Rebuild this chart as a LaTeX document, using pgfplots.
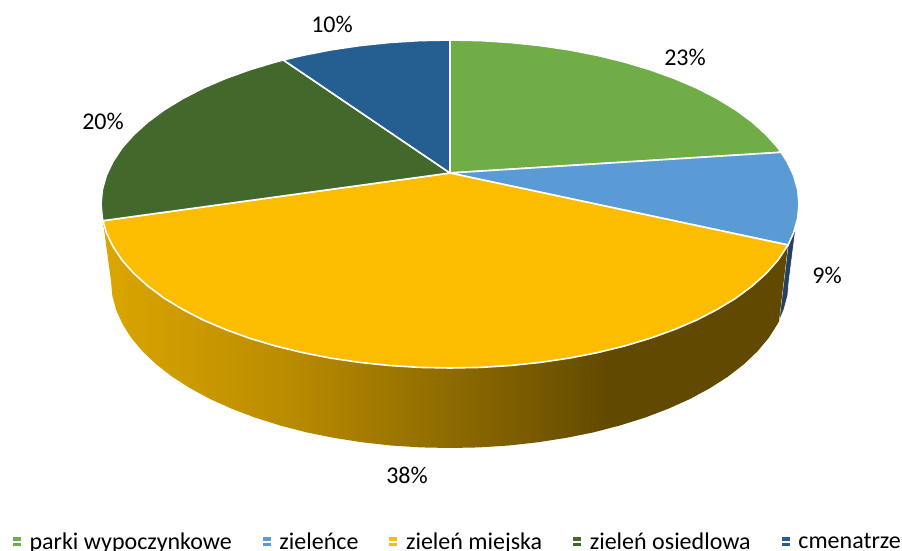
\documentclass[border=0pt]{standalone}
\usepackage{fontspec}
\setmainfont{Carlito}
\usepackage{pgfplots}
\pgfplotsset{compat=1.18}
\definecolor{pgreen}{HTML}{70AD47}
\definecolor{pblue}{HTML}{5B9BD5}
\definecolor{pyellow}{HTML}{FCBD00}
\definecolor{pdkgreen}{HTML}{43682B}
\definecolor{pnavy}{HTML}{255E91}
\definecolor{sidenavy}{HTML}{24425F}
\definecolor{sa}{HTML}{DCA600}
\definecolor{sb}{HTML}{B88A00}
\definecolor{sc}{HTML}{8F6C00}
\definecolor{sd}{HTML}{624900}
\pgfdeclarehorizontalshading{sideshade}{100bp}{color(0bp)=(sa); color(25bp)=(sa); color(39bp)=(sb); color(50bp)=(sc); color(62bp)=(sd); color(100bp)=(sd)}
\begin{document}
\begin{tikzpicture}
\useasboundingbox (0,0) rectangle (902pt,551pt);
\begin{axis}[
  scale only axis, width=902pt, height=551pt,
  xmin=0, xmax=902, ymin=0, ymax=551, y dir=reverse,
  hide axis, clip=false,
  legend style={at={(axis cs:12,553)}, anchor=south west, draw=none, fill=none,
    legend columns=-1, inner sep=0pt, outer sep=0pt, font=\fontsize{24}{26}\selectfont,
    /tikz/every even column/.append style={column sep=28pt}},
  legend cell align=left,
  legend image code/.code={\fill[#1,draw=none] (0pt,-4pt) rectangle (8pt,5pt); \path (0pt,0pt) -- (14pt,0pt);},
]
% side of the blue slice
\addplot[forget plot, draw=white, line width=0.6pt, fill=sidenavy] coordinates {
 (788,246) (796,226) (789,281) (787.7,295.6) (783.8,310) (779,321.4) (788,246)};
% side of the yellow slice
\addplot[forget plot, draw=none, shading=sideshade] coordinates {
 (103,221) (106.3,232.5) (112.9,246.4) (122,260.1) (133.7,273.3) (147.8,286) (164.1,298.1)
 (182.7,309.4) (203.2,320) (225.7,329.6) (249.8,338.3) (275.5,346) (302.5,352.6) (330.6,358.1)
 (359.7,362.4) (389.4,365.5) (419.6,367.4) (450,368) (480.4,367.4) (510.6,365.5) (540.3,362.4)
 (569.4,358.1) (597.5,352.6) (624.5,346) (650.2,338.3) (674.3,329.6) (696.8,320) (717.3,309.4)
 (735.9,298.1) (752.2,286) (766.3,273.3) (778,260.1) (788,245)
 (779,321.4) (777.4,324.2) (768.6,338.1) (757.2,351.6) (743.6,364.5) (727.7,376.8) (709.7,388.3)
 (689.7,399.1) (667.9,408.9) (644.4,417.8) (619.5,425.6) (593.3,432.4) (565.9,437.9) (537.7,442.3)
 (508.9,445.5) (479.5,447.4) (450,448) (420.5,447.4) (391.1,445.5) (362.3,442.3) (334.1,437.9)
 (306.7,432.4) (280.5,425.6) (255.6,417.8) (232.1,408.9) (210.3,399.1) (190.3,388.3) (172.3,376.8)
 (156.4,364.5) (142.8,351.6) (131.4,338.1) (122.6,324.2) (116.2,310) (112.3,295.6) (111,281)
 (104,229) (103,221)};
% top faces
\addplot[draw=white, line width=1.6pt, line join=round, fill=pgreen] coordinates {
 (450,173) (450,40) (480.4,40.6) (510.6,42.5) (540.3,45.6) (569.4,49.9) (597.5,55.4) (624.5,62)
 (650.2,69.7) (674.3,78.4) (696.8,88) (717.3,98.6) (735.9,109.9) (752.2,122) (766.3,134.7)
 (778,147.9) (781,152.3) (450,173)};
\addlegendentry{parki wypoczynkowe}
\addplot[draw=white, line width=1.6pt, line join=round, fill=pblue] coordinates {
 (450,173) (781,152.3) (787.1,161.6) (793.7,175.5) (797.7,189.7) (799,204) (797.7,218.3)
 (793.7,232.5) (788,245) (450,173)};
\addlegendentry{zieleńce}
\addplot[draw=white, line width=1.6pt, line join=round, fill=pyellow] coordinates {
 (450,173) (788,245) (778,260.1) (766.3,273.3) (752.2,286) (735.9,298.1) (717.3,309.4) (696.8,320)
 (674.3,329.6) (650.2,338.3) (624.5,346) (597.5,352.6) (569.4,358.1) (540.3,362.4) (510.6,365.5)
 (480.4,367.4) (450,368) (419.6,367.4) (389.4,365.5) (359.7,362.4) (330.6,358.1) (302.5,352.6)
 (275.5,346) (249.8,338.3) (225.7,329.6) (203.2,320) (182.7,309.4) (164.1,298.1) (147.8,286)
 (133.7,273.3) (122,260.1) (112.9,246.4) (106.3,232.5) (103,220.7) (450,173)};
\addlegendentry{zieleń miejska}
\addplot[draw=white, line width=1.6pt, line join=round, fill=pdkgreen] coordinates {
 (450,173) (103,220.7) (102.3,218.3) (101,204) (102.3,189.7) (106.3,175.5) (112.9,161.6) (122,147.9)
 (133.7,134.7) (147.8,122) (164.1,109.9) (182.7,98.6) (203.2,88) (225.7,78.4) (249.8,69.7)
 (275.5,62) (283.3,60) (450,173)};
\addlegendentry{zieleń osiedlowa}
\addplot[draw=white, line width=1.6pt, line join=round, fill=pnavy] coordinates {
 (450,173) (283.3,60) (302.5,55.4) (330.6,49.9) (359.7,45.6) (389.4,42.5) (419.6,40.6) (450,40) (450,173)};
\addlegendentry{cmenatrze}
\node[font=\fontsize{24}{26}\selectfont] at (axis cs:685,57) {23\%};
\node[font=\fontsize{24}{26}\selectfont] at (axis cs:827,275) {9\%};
\node[font=\fontsize{24}{26}\selectfont] at (axis cs:407,475) {38\%};
\node[font=\fontsize{24}{26}\selectfont] at (axis cs:103,121) {20\%};
\node[font=\fontsize{24}{26}\selectfont] at (axis cs:332,24) {10\%};
\end{axis}
\end{tikzpicture}
\end{document}
